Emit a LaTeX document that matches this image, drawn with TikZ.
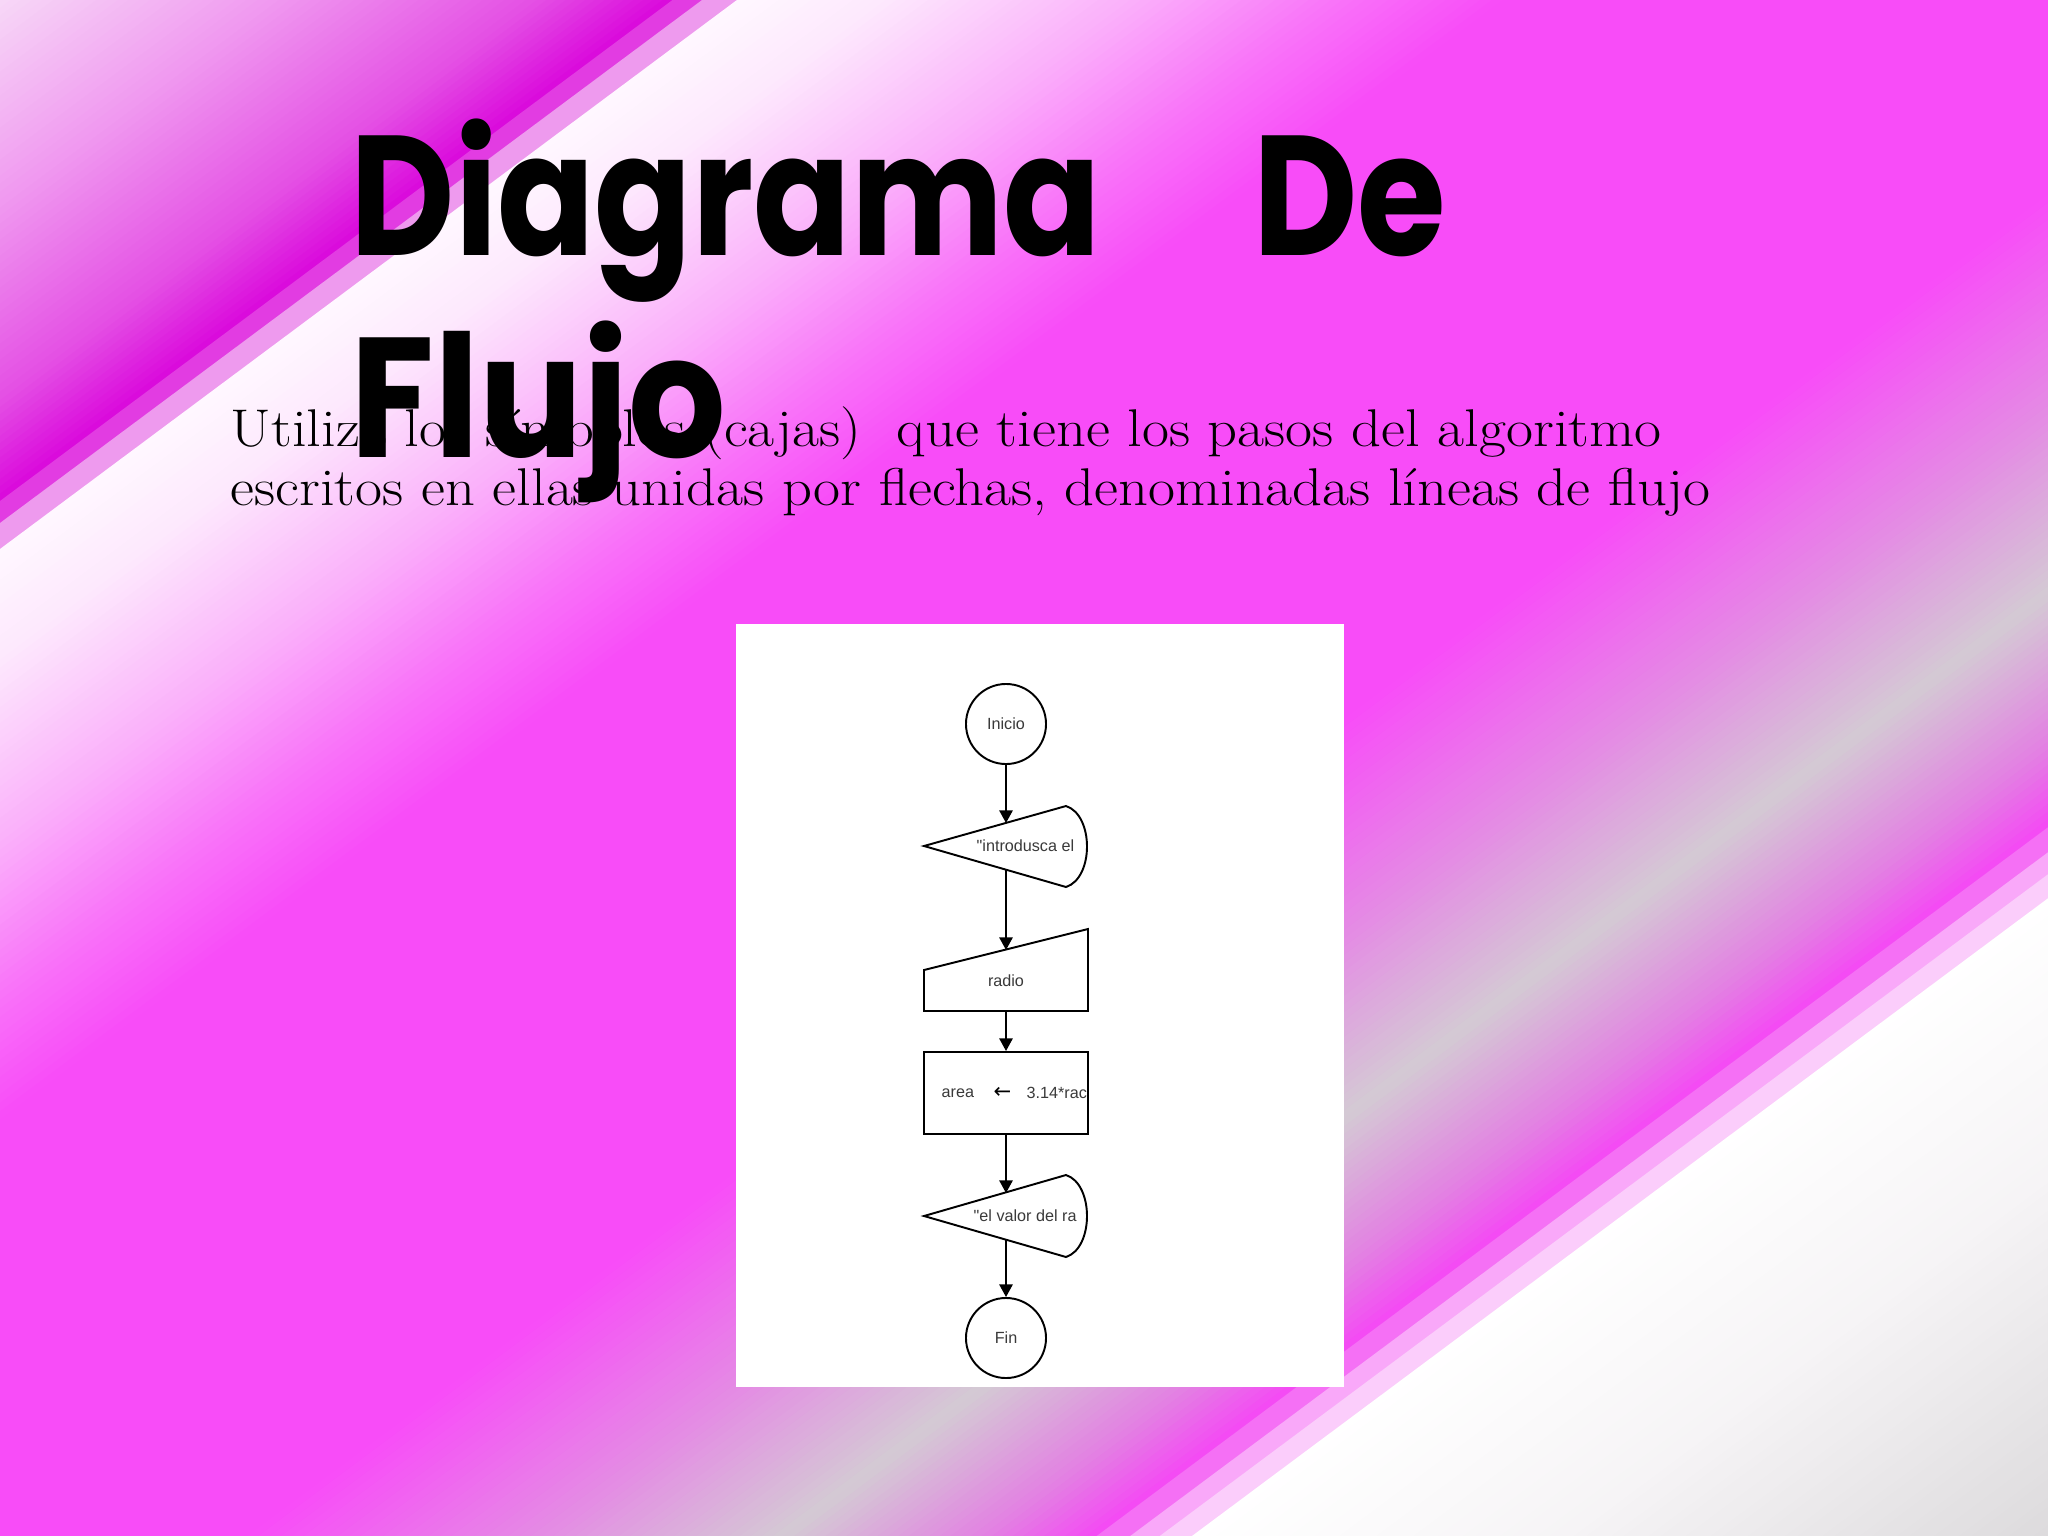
\documentclass[tikz,border=0pt]{standalone}
\usepackage{fontspec}
\usetikzlibrary{arrows.meta}
\newfontfamily\titlefontA{Poppins}[FakeStretch=0.842]
\newfontfamily\titlefontB{Poppins}[FakeStretch=0.90]
\newfontfamily\bodyfont{Latin Modern Roman}[FakeStretch=1.105]
\newfontfamily\chartfont{Liberation Sans}
\newfontfamily\symfont{DejaVu Sans}
\definecolor{w0}{HTML}{F7D8F7}
\definecolor{w1}{HTML}{F09AF0}
\definecolor{w2}{HTML}{E450E4}
\definecolor{w3}{HTML}{DA08DC}
\definecolor{ba}{HTML}{E23CE2}
\definecolor{bb}{HTML}{EE9AEE}
\definecolor{m0}{HTML}{FFF8FF}
\definecolor{m1}{HTML}{FDE8FD}
\definecolor{m2}{HTML}{FAAEFA}
\definecolor{m3}{HTML}{F972F9}
\definecolor{mg}{HTML}{F84CF8}
\definecolor{g1}{HTML}{E48CE4}
\definecolor{gr}{HTML}{D4CAD4}
\definecolor{g2}{HTML}{E37EE3}
\definecolor{mh}{HTML}{F548F5}
\definecolor{l1}{HTML}{F570F5}
\definecolor{l2}{HTML}{F9A8F9}
\definecolor{l3}{HTML}{FBCDFB}
\definecolor{wh}{HTML}{FFFFFF}
\definecolor{wa}{HTML}{F6F4F6}
\definecolor{wb}{HTML}{DCDADC}
\definecolor{inkgray}{HTML}{3A3A3A}
\tikzset{
  titleA/.style={font=\titlefontA\bfseries\fontsize{48.5}{54}\selectfont, inner sep=0pt, anchor=base west, text=black},
  titleB/.style={font=\titlefontB\bfseries\fontsize{48.5}{54}\selectfont, inner sep=0pt, anchor=base west, text=black},
  bodytext/.style={font=\bodyfont\fontsize{15.1}{16.5}\selectfont, inner sep=0pt, anchor=base west, text=black},
  chart/.style={draw=black, line width=0.55pt},
  lbl/.style={font=\chartfont\fontsize{4.6}{5}\selectfont, text=inkgray, inner sep=0pt},
  term/.style={circle, draw=black, line width=0.55pt, minimum size=0.8cm, inner sep=0pt, font=\chartfont\fontsize{4.6}{5}\selectfont, text=inkgray},
  procbox/.style={rectangle, draw=black, line width=0.55pt, minimum width=1.64cm, minimum height=0.82cm, inner sep=0pt},
  flow/.style={draw=black, line width=0.5pt, -{Triangle[length=3.6pt,width=3.8pt]}}
}
\begin{document}
\begin{tikzpicture}[x=0.01cm,y=-0.01cm]
\useasboundingbox (0,0) rectangle (2048,1536);
% background
\begin{scope}
\clip (0,0) rectangle (2048,1536);
\foreach \ca/\cb/\colA/\colB/\nst in {
 0/200/w0/w1/25, 200/400/w1/w2/25, 400/501/w2/w3/14,
 501/523/ba/ba/1, 523/549/bb/bb/1,
 549/660/m0/m1/14, 660/850/m1/m2/24, 850/1000/m2/m3/18, 1000/1120/m3/mg/14,
 1120/1720/mg/mg/1, 1720/1940/mg/g1/26, 1940/2120/g1/gr/22, 2120/2275/gr/g2/20, 2275/2353/g2/mh/10,
 2353/2378/l1/l1/1, 2378/2400/l2/l2/1, 2400/2424/l3/l3/1,
 2424/2700/wh/wa/30, 2700/3070/wa/wb/40}
{
  \foreach \i in {1,...,\nst}{
    \pgfmathsetmacro\lo{\ca+(\cb-\ca)*(\i-1)/\nst}
    \pgfmathsetmacro\hi{\ca+(\cb-\ca)*\i/\nst+1.5}
    \pgfmathsetmacro\pp{100*(1-(\i-0.5)/\nst)}
    \fill[fill=\colA!\pp!\colB] (-50,\lo+37.25) -- (2100,\lo-1564.5) -- (2100,\hi-1564.5) -- (-50,\hi+37.25) -- cycle;
  }
}
\end{scope}
% body text
\node[bodytext] (body1) at (230,446) {Utiliza los símbolos (cajas)\ \ que tiene los pasos del algoritmo};
\node[bodytext] (body2) at (230,505) {escritos en ellas unidas por flechas, denominadas líneas de flujo};
% title
\node[titleA] (title1) at (350,255) {Diagrama\hspace{43.3pt}De};
\node[titleB] (title2) at (350,457) {Flujo};
% picture panel
\node[fill=white, draw=none, minimum width=6.08cm, minimum height=7.63cm, inner sep=0pt] (panel) at (1040,1005.5) {};
% flowchart
\node[term] (inicio) at (1006,724) {Inicio};
\draw[chart] (924,846) -- (1066,806) .. controls (1094,815) and (1094,878) .. (1066,887) -- cycle;
\node[lbl, anchor=west] (out1) at (976,846) {"introdusca el};
\draw[chart] (924,970) -- (1088,929) -- (1088,1011) -- (924,1011) -- cycle;
\node[lbl] (radio) at (1006,981) {radio};
\node[procbox] (proc) at (1006,1093) {};
\node[lbl, anchor=west] (area) at (941,1093) {area};
\node[lbl, anchor=west, font=\symfont\fontsize{6}{6}\selectfont, text=black] (asg) at (993,1093) {←};
\node[lbl, anchor=west] (expr) at (1026,1093) {3.14*rac};
\draw[chart] (924,1216) -- (1066,1175) .. controls (1094,1184) and (1094,1248) .. (1066,1257) -- cycle;
\node[lbl, anchor=west] (out2) at (973,1216) {"el valor del ra};
\node[term] (fin) at (1006,1338) {Fin};
\coordinate (o1in) at (1006,823);
\coordinate (o1out) at (1006,869);
\coordinate (miin) at (1006,950);
\coordinate (miout) at (1006,1011);
\coordinate (o2in) at (1006,1193);
\coordinate (o2out) at (1006,1240);
\draw[flow] (inicio) -- (o1in);
\draw[flow] (o1out) -- (miin);
\draw[flow] (miout) -- (proc);
\draw[flow] (proc) -- (o2in);
\draw[flow] (o2out) -- (fin);
\end{tikzpicture}
\end{document}
